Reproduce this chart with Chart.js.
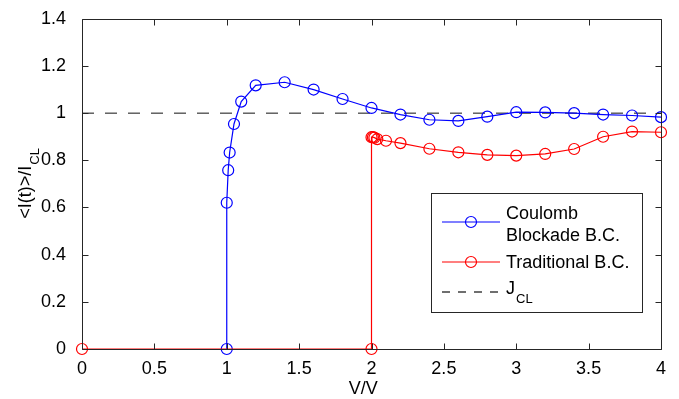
<!doctype html>
<html>
<head>
<title>Current vs voltage</title>
<script src="https://cdn.jsdelivr.net/npm/chart.js@4"></script>
<style>
	body { margin: 0; background: #fff; }
	canvas { display: block; }
</style>
</head>
<body>
<canvas id="chart" width="679" height="399"></canvas>
<script>
// Coulomb blockade boundary condition
var cbV = [1, 1, 1.01, 1.02, 1.05, 1.1, 1.2, 1.4, 1.6, 1.8, 2.0, 2.2, 2.4, 2.6, 2.8, 3.0, 3.2, 3.4, 3.6, 3.8, 4.0];
var cbI = [0, 0.62, 0.758, 0.833, 0.954, 1.049, 1.118, 1.131, 1.10, 1.06, 1.022, 0.994, 0.972, 0.967, 0.985, 1.004, 1.003, 1.0, 0.994, 0.99, 0.983];
// traditional boundary condition
var tradV = [0, 2, 2, 2.01, 2.02, 2.04, 2.1, 2.2, 2.4, 2.6, 2.8, 3.0, 3.2, 3.4, 3.6, 3.8, 4.0];
var tradI = [0, 0, 0.898, 0.898, 0.896, 0.89, 0.883, 0.873, 0.849, 0.834, 0.823, 0.820, 0.827, 0.848, 0.90, 0.922, 0.919];
// Child-Langmuir level
var jclV = [0, 4];
var jclI = [1, 1];

var xTicks = [0, 0.5, 1, 1.5, 2, 2.5, 3, 3.5, 4];
var yTicks = [0, 0.2, 0.4, 0.6, 0.8, 1, 1.2, 1.4];

var BLUE = 'rgb(0,0,255)';
var RED = 'rgb(255,0,0)';
var FONT = '"Liberation Sans", Arial, Helvetica, sans-serif';

function pts(xs, ys) {
	return xs.map(function(x, i) { return {x: x, y: ys[i]}; });
}

// frame, inward ticks, axis titles with subscripts, legend
var matlabAxes = {
	id: 'matlabAxes',
	afterDraw: function(chart) {
		var ctx = chart.ctx;
		var a = chart.chartArea;
		var xs = chart.scales.x, ys = chart.scales.y;
		var L = Math.round(a.left) + 0.5, R = Math.round(a.right) + 0.5;
		var T = Math.round(a.top) + 0.5, B = Math.round(a.bottom) + 0.5;
		var tl = 6;
		ctx.save();
		ctx.strokeStyle = '#262626';
		ctx.lineWidth = 1;
		ctx.beginPath();
		ctx.rect(L, T, R - L, B - T);
		xTicks.forEach(function(v) {
			var px = Math.round(xs.getPixelForValue(v)) + 0.5;
			ctx.moveTo(px, B); ctx.lineTo(px, B - tl);
			ctx.moveTo(px, T); ctx.lineTo(px, T + tl);
		});
		yTicks.forEach(function(v) {
			var py = Math.round(ys.getPixelForValue(v)) + 0.5;
			ctx.moveTo(L, py); ctx.lineTo(L + tl, py);
			ctx.moveTo(R, py); ctx.lineTo(R - tl, py);
		});
		ctx.stroke();

		ctx.fillStyle = '#000';
		ctx.textBaseline = 'alphabetic';
		// x title
		ctx.font = '18px ' + FONT;
		var main = 'V/V', w1 = ctx.measureText(main).width;
		ctx.font = '13px ' + FONT;
		var w2 = ctx.measureText('CL').width;
		var x0 = (a.left + a.right) / 2 - (w1 + w2) / 2;
		ctx.font = '18px ' + FONT;
		ctx.textAlign = 'left';
		ctx.fillText(main, x0, 394);
		ctx.font = '13px ' + FONT;
		ctx.fillText('CL', x0 + w1 + 1, 410);

		// y title
		ctx.save();
		ctx.translate(31, (a.top + a.bottom) / 2);
		ctx.rotate(-Math.PI / 2);
		ctx.font = '18px ' + FONT;
		var m = '<I(t)>/I', mw = ctx.measureText(m).width;
		ctx.font = '13px ' + FONT;
		var sw = ctx.measureText('CL').width;
		var sx = -(mw + sw) / 2;
		ctx.font = '18px ' + FONT;
		ctx.fillText(m, sx, 0);
		ctx.font = '13px ' + FONT;
		ctx.fillText('CL', sx + mw + 1, 8);
		ctx.restore();

		// legend
		var bx = 431.5, by = 193.5, bw = 211, bh = 119;
		ctx.fillStyle = '#fff';
		ctx.fillRect(bx, by, bw, bh);
		ctx.strokeStyle = '#262626';
		ctx.strokeRect(bx, by, bw, bh);

		function sample(y, color, dash, marker) {
			ctx.save();
			ctx.strokeStyle = color;
			ctx.lineWidth = 1.2;
			ctx.setLineDash(dash);
			ctx.beginPath();
			ctx.moveTo(442, y); ctx.lineTo(500, y);
			ctx.stroke();
			if (marker) {
				ctx.setLineDash([]);
				ctx.beginPath();
				ctx.arc(471, y, 5.5, 0, Math.PI * 2);
				ctx.stroke();
			}
			ctx.restore();
		}
		sample(222, BLUE, [], true);
		sample(262, RED, [], true);
		sample(292, '#111', [8, 8], false);

		ctx.fillStyle = '#000';
		ctx.font = '18px ' + FONT;
		ctx.fillText('Coulomb', 506, 219);
		ctx.fillText('Blockade B.C.', 506, 241);
		ctx.fillText('Traditional B.C.', 506, 268);
		ctx.fillText('J', 506, 294);
		var jw = ctx.measureText('J').width;
		ctx.font = '13px ' + FONT;
		ctx.fillText('CL', 506 + jw + 1, 303);
		ctx.restore();
	}
};

var ctx = document.getElementById('chart').getContext('2d');
new Chart(ctx, {
	type: 'line',
	data: {
		datasets: [{
			label: 'J_CL',
			data: pts(jclV, jclI),
			borderColor: '#111',
			borderWidth: 1,
			borderDash: [12, 11],
			pointRadius: 0,
			order: 3
		}, {
			label: 'Coulomb Blockade B.C.',
			data: pts(cbV, cbI),
			borderColor: BLUE,
			borderWidth: 1.2,
			pointRadius: 5.5,
			pointBorderWidth: 1.2,
			pointBorderColor: BLUE,
			pointBackgroundColor: 'rgba(0,0,0,0)',
			clip: false,
			order: 2
		}, {
			label: 'Traditional B.C.',
			data: pts(tradV, tradI),
			borderColor: RED,
			borderWidth: 1.2,
			pointRadius: 5.5,
			pointBorderWidth: 1.2,
			pointBorderColor: RED,
			pointBackgroundColor: 'rgba(0,0,0,0)',
			clip: false,
			order: 1
		}]
	},
	options: {
		responsive: false,
		animation: false,
		parsing: false,
		layout: { padding: { top: 14, right: 18, left: 0, bottom: 0 } },
		plugins: {
			legend: { display: false },
			tooltip: { enabled: false }
		},
		elements: { line: { tension: 0 } },
		scales: {
			x: {
				type: 'linear',
				min: 0,
				max: 4,
				afterBuildTicks: function(s) { s.ticks = xTicks.map(function(v) { return {value: v}; }); },
				afterFit: function(s) { s.height = 50; },
				grid: { display: false },
				border: { display: false },
				ticks: {
					padding: 1,
					color: '#000',
					maxRotation: 0,
					font: { family: FONT, size: 18 },
					callback: function(v) { return String(v); }
				}
			},
			y: {
				type: 'linear',
				min: 0,
				max: 1.4,
				afterBuildTicks: function(s) { s.ticks = yTicks.map(function(v) { return {value: v}; }); },
				afterFit: function(s) { s.width = 82; },
				grid: { display: false },
				border: { display: false },
				ticks: {
					padding: 8,
					color: '#000',
					font: { family: FONT, size: 18 },
					callback: function(v) { return String(v); }
				}
			}
		}
	},
	plugins: [matlabAxes]
});
</script>
</body>
</html>
